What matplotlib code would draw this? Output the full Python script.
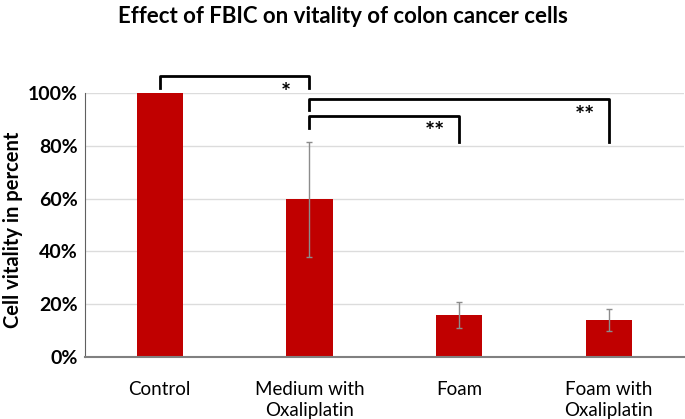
import numpy as np
import matplotlib.pyplot as plt

categories = ['Control', 'Medium with\nOxaliplatin', 'Foam', 'Foam with\nOxaliplatin']
vitality = [100.0, 59.7, 16.0, 14.0]
vitality_err = [0.0, 21.7, 5.0, 4.1]

# significance brackets: (from bar, to bar, top, left leg end, right leg end, label)
brackets = [
    (0, 1, 106.5, 101.8, 101.8, '*'),
    (1, 3, 97.6, 93.6, 81.5, '**'),
    (1, 2, 91.4, 86.8, 81.3, '**'),
]

plt.rcParams['font.family'] = ['Lato', 'DejaVu Sans']

fig = plt.figure(figsize=(6.85, 4.19), dpi=100)
ax = fig.add_axes([0.124, 0.148, 0.874, 0.630])

x = np.arange(len(categories))
ax.bar(x, vitality, width=0.31, color='#c00000', zorder=2)
ax.errorbar(x[1:], vitality[1:], yerr=vitality_err[1:], fmt='none', ecolor='#8c8c8c',
            elinewidth=1, capsize=2, capthick=1, zorder=3)

ax.set_xlim(-0.5, len(categories) - 0.5)
ax.set_ylim(0, 100)
ax.set_yticks(np.arange(0, 101, 20))
ax.set_yticklabels([f'{v}%' for v in range(0, 101, 20)], fontsize=14, fontweight='bold')
ax.set_xticks(x)
ax.set_xticklabels(categories, fontsize=13.5, linespacing=1.35)
ax.tick_params(axis='both', length=0)
ax.tick_params(axis='x', pad=17)
ax.tick_params(axis='y', pad=5)

ax.yaxis.grid(True, color='#dcdcdc', linewidth=1, zorder=0)
ax.set_axisbelow(True)
for side in ['top', 'right']:
    ax.spines[side].set_visible(False)
ax.spines['left'].set_color('#606060')
ax.spines['bottom'].set_color('#808080')
ax.spines['bottom'].set_linewidth(1.5)

ax.set_ylabel('Cell vitality in percent', fontsize=14.5, fontweight='bold')
ax.yaxis.set_label_coords(-0.103, 0.481)

for i, j, top, left_end, right_end, label in brackets:
    ax.plot([x[i], x[i], x[j], x[j]], [left_end, top, top, right_end],
            color='black', linewidth=2, clip_on=False, zorder=4)
    ax.text(x[j] - 0.16, top - 6.5, label, ha='center', va='center',
            fontsize=17, fontweight='bold', clip_on=False)

fig.suptitle('Effect of FBIC on vitality of colon cancer cells', fontsize=16,
             fontweight='bold', y=0.985)

fig.savefig('out.png', dpi=100)
